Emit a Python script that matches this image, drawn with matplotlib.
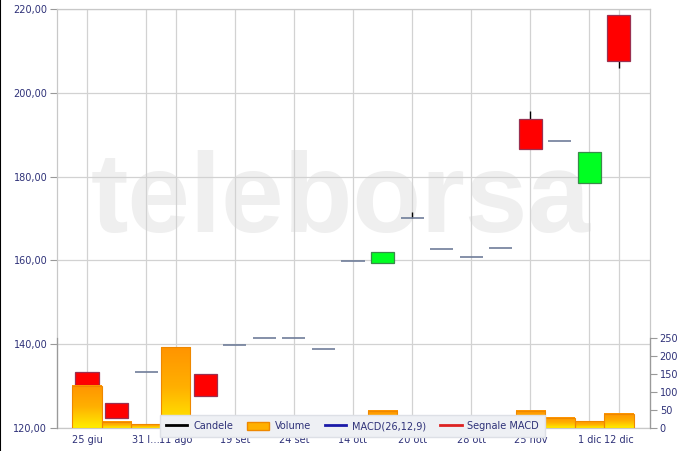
import numpy as np
import matplotlib
matplotlib.use('Agg')
import matplotlib.pyplot as plt
from matplotlib.lines import Line2D
from matplotlib.patches import Patch
from matplotlib.colors import LinearSegmentedColormap

# ---- data ----
opens  = [133.4, 126.0, 133.4, 136.0, 132.9, 139.8, 141.5, 141.5, 138.9, 159.9,
          159.4, 170.1, 162.7, 160.8, 163.0, 193.7, 188.5, 178.5, 218.6]
closes = [130.2, 122.4, 133.4, 136.0, 127.6, 139.8, 141.5, 141.5, 138.9, 159.9,
          162.0, 170.1, 162.7, 160.8, 163.0, 186.6, 188.5, 185.9, 207.6]
highs  = [133.4, 126.0, 133.4, 136.0, 132.9, 139.8, 141.5, 141.5, 138.9, 159.9,
          162.0, 171.6, 162.7, 160.8, 163.0, 195.7, 188.5, 185.9, 218.6]
lows   = [130.2, 122.4, 133.4, 136.0, 127.6, 139.8, 141.5, 141.5, 138.9, 159.9,
          159.4, 170.1, 162.7, 160.8, 163.0, 186.6, 188.5, 178.5, 205.9]
volumes = [117, 17, 11, 225, 10, 8, 8, 8, 8, 10, 48, 10, 10, 10, 12, 48, 28, 19, 39]
tick_idx = [0, 2, 3, 5, 7, 9, 11, 13, 15, 17, 18]
tick_labels = ['25 giu', '31 l…', '11 ago', '19 set', '24 set', '14 ott',
               '20 ott', '28 ott', '25 nov', '1 dic', '12 dic']
price_ticks = [120, 140, 160, 180, 200, 220]
vol_ticks = [0, 50, 100, 150, 200, 250]
legend_labels = ['Candele', 'Volume', 'MACD(26,12,9)', 'Segnale MACD']

txt_col = '#2e3178'
grid_col = '#d2d2d2'

fig = plt.figure(figsize=(7, 4.51), dpi=100)
pos = [57/700, 23/451, 593/700, 419/451]
ax = fig.add_axes(pos)
x = np.arange(len(opens))
xlim = (-1.015, 19.05)

# watermark
ax.text(0.479, 0.467, 'teleborsa', transform=ax.transAxes, ha='center', va='baseline',
        fontsize=81, fontweight='bold', family=['Liberation Sans', 'DejaVu Sans'],
        color='#efefef', zorder=0.1)

# candles
ax.vlines(x, lows, highs, color='black', lw=1, zorder=2)
for i in range(len(opens)):
    o, c = opens[i], closes[i]
    if abs(c - o) < 1e-9:
        ax.hlines(o, x[i] - 0.39, x[i] + 0.39, color='#6f7d99', lw=1.2, zorder=3)
    else:
        up = c > o
        ax.bar(x[i], abs(c - o), bottom=min(o, c), width=0.78,
               color='#00ff22' if up else '#ff0000',
               edgecolor='#3a8a4a' if up else '#9a3050', lw=0.9, zorder=3)

ax.set_xlim(*xlim)
ax.set_ylim(120, 220)
ax.set_yticks(price_ticks)
ax.set_yticklabels([f"{v:.2f}".replace('.', ',') for v in price_ticks])
ax.set_xticks(tick_idx)
ax.set_xticklabels(tick_labels)
ax.tick_params(axis='y', colors='#999999', labelcolor=txt_col, labelsize=7, length=5, width=0.8, pad=2)
ax.tick_params(axis='x', length=0, labelcolor=txt_col, labelsize=7, pad=5)
ax.set_axisbelow(True)
ax.grid(True, color=grid_col, lw=0.9)
for s in ax.spines.values():
    s.set_color('#c8c8c8')
    s.set_linewidth(0.9)

# volume axes
ax2 = fig.add_axes(pos, facecolor='none')
vmax_axis = 250 * 419 / 90
cmap = LinearSegmentedColormap.from_list('vol', ['#ffee00', '#ffb000', '#ff9400'])
grad = np.linspace(0, 1, 256).reshape(-1, 1)
for i, v in enumerate(volumes):
    ax2.imshow(grad, extent=[x[i] - 0.5, x[i] + 0.5, 0, v], origin='lower',
               aspect='auto', cmap=cmap, zorder=2, interpolation='bilinear')
ax2.bar(x, volumes, width=1.0, facecolor='none', edgecolor='#ee8800', lw=0.8, zorder=3)
ax2.set_xlim(*xlim)
ax2.set_ylim(0, vmax_axis)
ax2.set_xticks([])
ax2.yaxis.tick_right()
ax2.set_yticks(vol_ticks)
ax2.tick_params(axis='y', colors='#999999', labelcolor=txt_col, labelsize=7, length=5, width=0.8, pad=2)
for k in ['top', 'bottom']:
    ax2.spines[k].set_visible(False)
for k in ['left', 'right']:
    ax2.spines[k].set_bounds(0, 250)
    ax2.spines[k].set_color('#9a9a9a')
    ax2.spines[k].set_linewidth(0.9)

handles = [Line2D([], [], color='black', lw=2),
           Patch(facecolor='#ffb000', edgecolor='#ee8800'),
           Line2D([], [], color='#1a1aa8', lw=2),
           Line2D([], [], color='#dd2222', lw=2)]
leg = ax2.legend(handles, legend_labels, loc='lower left', bbox_to_anchor=(0.174, -0.0215),
                 ncol=4, frameon=True, fancybox=False, fontsize=7, handlelength=2.2,
                 handleheight=0.9, columnspacing=1.45, borderpad=0.6, handletextpad=0.6,
                 labelcolor=txt_col, framealpha=1, borderaxespad=0)
leg.get_frame().set_facecolor('#eef0f4')
leg.get_frame().set_edgecolor('#dde0e6')
leg.set_zorder(10)

fig.add_artist(Line2D([0.0007, 0.0007], [0, 1], transform=fig.transFigure, color='black', lw=1.5))

fig.savefig('out.png', dpi=100)
